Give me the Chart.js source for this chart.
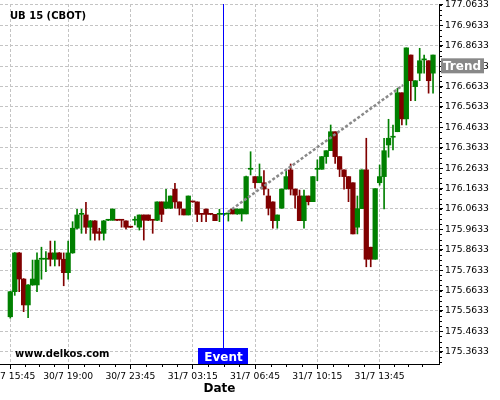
<!DOCTYPE html>
<html>
<head>
<meta charset="utf-8">
<script src="https://cdn.jsdelivr.net/npm/chart.js@4/dist/chart.umd.min.js"></script>
<style>
  html, body { margin: 0; padding: 0; background: #fff; }
  #wrap { width: 500px; height: 400px; }
</style>
</head>
<body>
<div id="wrap"><canvas id="chart" width="500" height="400"></canvas></div>
<script>
// 15 minute candles, UB 15 (CBOT), index 0 = 30/7 15:45
const openP = [
  175.535, 175.658, 175.848, 175.720, 175.593, 175.691, 175.691, 175.817, 175.817, 175.848,
  175.817, 175.848, 175.817, 175.751, 175.848, 175.969, 176.037, 176.034, 175.974, 176.005,
  175.952, 175.944, 176.008, 176.008, 176.009, 176.009, 176.005, 175.975, 176.008, 175.974,
  176.034, 176.034, 176.009, 176.008, 176.098, 176.067, 176.067, 176.160, 176.098, 176.063,
  176.034, 176.099, 176.098, 176.038, 176.063, 176.038, 176.037, 176.037, 176.037, 176.039,
  176.063, 176.039, 176.039, 176.039, 176.258, 176.222, 176.192, 176.192, 176.127, 176.098,
  176.006, 176.067, 176.161, 176.255, 176.161, 176.127, 176.006, 176.127, 176.099, 176.258,
  176.258, 176.320, 176.349, 176.442, 176.320, 176.255, 176.222, 176.192, 175.974, 176.065,
  176.255, 175.876, 175.817, 176.192, 176.222, 176.377, 176.415, 176.442, 176.633, 176.505,
  176.818, 176.663, 176.729, 176.794, 176.790, 176.729
];
const highP = [
  175.660, 175.850, 175.850, 175.722, 175.693, 175.813, 175.849, 175.876, 175.854, 175.906,
  175.906, 175.850, 175.848, 175.906, 176.001, 176.062, 176.062, 176.096, 176.007, 176.007,
  175.969, 176.007, 176.010, 176.063, 176.010, 176.010, 176.005, 175.976, 176.026, 176.034,
  176.034, 176.034, 176.010, 176.098, 176.098, 176.160, 176.127, 176.189, 176.098, 176.063,
  176.127, 176.100, 176.098, 176.039, 176.063, 176.039, 176.037, 176.062, 176.040, 176.040,
  176.063, 176.063, 176.063, 176.225, 176.344, 176.222, 176.284, 176.251, 176.161, 176.098,
  176.034, 176.161, 176.251, 176.284, 176.161, 176.156, 176.156, 176.127, 176.222, 176.304,
  176.320, 176.349, 176.475, 176.442, 176.320, 176.255, 176.222, 176.192, 176.127, 176.255,
  176.410, 175.876, 176.163, 176.279, 176.410, 176.503, 176.475, 176.655, 176.633, 176.853,
  176.818, 176.692, 176.851, 176.818, 176.790, 176.818
];
const lowP = [
  175.528, 175.640, 175.658, 175.560, 175.530, 175.689, 175.658, 175.719, 175.756, 175.784,
  175.784, 175.784, 175.687, 175.719, 175.846, 175.965, 175.944, 175.944, 175.911, 175.911,
  175.911, 175.911, 176.006, 176.008, 176.006, 175.974, 175.965, 175.972, 175.985, 175.960,
  175.911, 176.006, 175.944, 176.006, 176.001, 176.065, 176.065, 176.067, 176.034, 176.034,
  176.034, 176.096, 176.001, 176.001, 176.001, 176.035, 176.006, 176.001, 176.030, 176.004,
  176.039, 176.037, 176.004, 176.039, 176.230, 176.165, 176.192, 176.132, 176.034, 175.969,
  175.969, 176.067, 176.161, 176.132, 176.067, 176.006, 175.969, 176.083, 176.099, 176.202,
  176.258, 176.287, 176.349, 176.287, 176.222, 176.160, 176.099, 175.941, 175.941, 176.065,
  175.780, 175.780, 175.817, 176.180, 176.063, 176.317, 176.353, 176.442, 176.475, 176.475,
  176.594, 176.594, 176.692, 176.729, 176.631, 176.631
];
const closeP = [
  175.658, 175.848, 175.720, 175.593, 175.691, 175.720, 175.813, 175.817, 175.817, 175.817,
  175.848, 175.817, 175.751, 175.848, 175.969, 176.034, 176.037, 175.974, 176.005, 175.944,
  175.944, 176.005, 176.008, 176.063, 176.008, 176.008, 175.974, 175.974, 176.008, 176.034,
  176.008, 176.008, 176.008, 176.098, 176.037, 176.098, 176.127, 176.098, 176.067, 176.034,
  176.127, 176.098, 176.037, 176.037, 176.037, 176.037, 176.006, 176.037, 176.037, 176.039,
  176.039, 176.063, 176.063, 176.222, 176.258, 176.192, 176.222, 176.161, 176.067, 176.006,
  176.034, 176.161, 176.222, 176.161, 176.131, 176.006, 176.127, 176.099, 176.222, 176.258,
  176.320, 176.349, 176.442, 176.320, 176.258, 176.222, 176.163, 175.941, 176.065, 176.255,
  175.817, 175.817, 176.163, 176.222, 176.349, 176.410, 176.415, 176.633, 176.505, 176.853,
  176.692, 176.692, 176.790, 176.794, 176.692, 176.818
];

// x axis labels sit on candle indexes
const labelIdx   = [0, 13, 27, 41, 55, 69, 83];
const timeLabels = ['30/7 15:45', '30/7 19:00', '30/7 23:45', '31/7 03:15', '31/7 06:45', '31/7 10:15', '31/7 13:45'];

const yTicks = [
  175.3633, 175.4633, 175.5633, 175.6633, 175.7633, 175.8633, 175.9633, 176.0633, 176.1633,
  176.2633, 176.3633, 176.4633, 176.5633, 176.6633, 176.7633, 176.8633, 176.9633, 177.0633
];

// event marker and trend line
const eventIdx   = 47.9;
const trendX     = [48.9, 88.3];
const trendY     = [176.048, 176.671];
const trendLabelValue = 176.765;

const UP = '#008000', DOWN = '#800000';
const FONT = 'DejaVu Sans';

const colors = openP.map((o, i) => closeP[i] >= o ? UP : DOWN);
const wicks  = openP.map((o, i) => ({ x: i, y: [lowP[i], highP[i]] }));
const bodies = openP.map((o, i) => ({ x: i, y: [o, closeP[i]] }));
const trend  = trendX.map((x, i) => ({ x, y: trendY[i] }));

// draws minor ticks, labels, event marker and trend tag on top of the chart
const overlay = {
  id: 'overlay',
  afterDraw(chart) {
    const { ctx, chartArea: a, scales: { x, y } } = chart;
    ctx.save();
    ctx.setLineDash([]);

    ctx.strokeStyle = '#000';
    ctx.lineWidth = 1;
    ctx.beginPath();
    for (let v = yTicks[0] - 0.075; v < y.max; v += 0.025) {
      if (v < y.min) continue;
      const py = Math.round(y.getPixelForValue(v)) + 0.5;
      ctx.moveTo(a.right, py); ctx.lineTo(a.right + 3, py);
    }
    for (let k = 0; k < labelIdx.length; k++) {
      const from = labelIdx[k];
      const step = k < labelIdx.length - 1 ? (labelIdx[k + 1] - from) / 4 : 3.2;
      for (let j = 1; j < 4; j++) {
        const px = Math.round(x.getPixelForValue(from + j * step)) + 0.5;
        if (px > a.right) continue;
        ctx.moveTo(px, a.bottom); ctx.lineTo(px, a.bottom + 3);
      }
    }
    ctx.stroke();

    ctx.fillStyle = '#000';
    ctx.font = 'bold 10px ' + FONT;
    ctx.textBaseline = 'alphabetic';
    ctx.textAlign = 'left';
    ctx.fillText('UB 15 (CBOT)', 10, 19);
    ctx.fillText('www.delkos.com', 15, 357);

    // event line + tag
    const ex = Math.round(x.getPixelForValue(eventIdx)) + 0.5;
    ctx.strokeStyle = '#0000ff';
    ctx.lineWidth = 1;
    ctx.beginPath();
    ctx.moveTo(ex, a.top); ctx.lineTo(ex, a.bottom);
    ctx.stroke();
    ctx.fillStyle = '#0000ff';
    ctx.fillRect(ex - 25.5, 348, 50, 16);
    ctx.fillStyle = '#fff';
    ctx.font = 'bold 12px ' + FONT;
    ctx.textAlign = 'center';
    ctx.fillText('Event', ex, 361);

    // trend tag on the price axis
    const ty = y.getPixelForValue(trendLabelValue);
    ctx.fillStyle = '#888888';
    ctx.fillRect(a.right + 2, ty - 7.5, 43, 15);
    ctx.fillStyle = '#fff';
    ctx.textAlign = 'left';
    ctx.fillText('Trend', a.right + 4, ty + 4.5);

    ctx.restore();
  }
};

new Chart(document.getElementById('chart'), {
  data: {
    datasets: [
      { type: 'line', data: trend, borderColor: '#8a8a8a', borderWidth: 2.5, borderDash: [3, 2],
        pointRadius: 0, fill: false, order: 0 },
      { type: 'bar', data: bodies, backgroundColor: colors, barThickness: 4.6, minBarLength: 1,
        grouped: false, borderWidth: 0, order: 1 },
      { type: 'bar', data: wicks, backgroundColor: colors, barThickness: 1,
        grouped: false, borderWidth: 0, order: 2 },
    ],
  },
  options: {
    responsive: false,
    animation: false,
    devicePixelRatio: 1,
    layout: { padding: { top: 4, left: 0, right: 0, bottom: 0 } },
    plugins: { legend: { display: false }, tooltip: { enabled: false } },
    scales: {
      x: {
        type: 'linear', min: -2.315, max: 96.34, offset: false,
        afterBuildTicks: s => { s.ticks = labelIdx.map(v => ({ value: v })); },
        afterFit: s => { s.height = 36; s.paddingLeft = 0; s.paddingRight = 0; },
        ticks: {
          callback: v => timeLabels[labelIdx.indexOf(v)],
          font: { family: FONT, size: 9.2 }, color: '#000', padding: 2,
          maxRotation: 0, autoSkip: false,
        },
        grid: { offset: false, color: '#c4c4c4', tickLength: 5, tickColor: '#000', tickWidth: 1 },
        border: { display: true, color: '#000', dash: [3, 2] },
        title: { display: true, text: 'Date', color: '#000',
          font: { family: FONT, size: 12, weight: 'bold' }, padding: { top: 0, bottom: 4 } },
      },
      y: {
        type: 'linear', position: 'right', min: 175.3035, max: 177.068,
        afterBuildTicks: s => { s.ticks = yTicks.map(v => ({ value: v })); },
        afterFit: s => { s.width = 61; s.paddingTop = 0; s.paddingBottom = 0; },
        ticks: {
          callback: v => v.toFixed(4),
          font: { family: FONT, size: 9.2 }, color: '#000', padding: 2,
        },
        grid: { color: '#c4c4c4', tickLength: 4, tickColor: '#000', tickWidth: 1 },
        border: { display: true, color: '#000', dash: [3, 2] },
      },
    },
  },
  plugins: [overlay],
});
</script>
</body>
</html>
